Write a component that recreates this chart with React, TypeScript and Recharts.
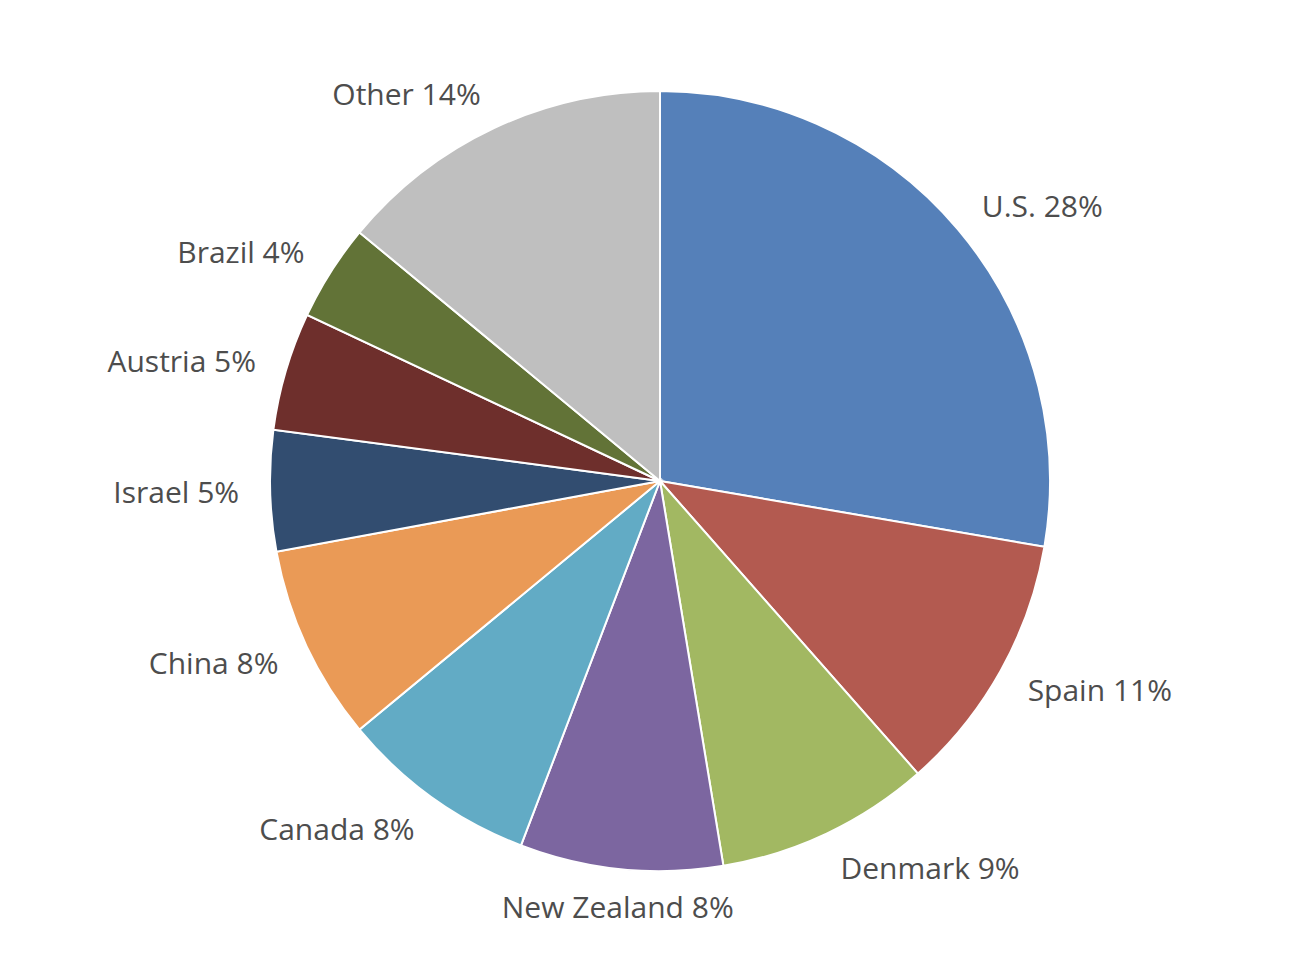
import { PieChart, Pie, Cell } from 'recharts';

const countries = ['U.S.', 'Spain', 'Denmark', 'New Zealand', 'Canada', 'China', 'Israel', 'Austria', 'Brazil', 'Other'];
// shares as measured from the slice angles; labels show them rounded
const shares = [27.7, 10.8, 8.9, 8.4, 8.2, 8.1, 5.0, 4.9, 4.0, 14.0];
const colors = ['#5580B9', '#B35A50', '#A2B862', '#7C66A0', '#62ABC5', '#EA9A56', '#324D70', '#6E2F2C', '#627337', '#BFBFBF'];

const data = countries.map((name, i) => ({ name, value: shares[i] }));

const RADIAN = Math.PI / 180;

function renderLabel(props: any) {
  const { cx, cy, midAngle, outerRadius, name, value } = props;
  const cos = Math.cos(-midAngle * RADIAN);
  const sin = Math.sin(-midAngle * RADIAN);
  // labels sit a little further out vertically than horizontally
  const x = cx + (outerRadius + 31) * cos;
  const y = cy + (outerRadius + 38) * sin;
  const anchor = Math.abs(cos) < 0.25 ? 'middle' : cos > 0 ? 'start' : 'end';
  return (
    <text
      x={x}
      y={y}
      textAnchor={anchor}
      dominantBaseline="central"
      fill="#4d4d4d"
      fontSize={30}
      fontFamily="'Open Sans', sans-serif"
    >
      {`${name} ${Math.round(value)}%`}
    </text>
  );
}

export default function App() {
  return (
    <PieChart width={1276} height={942}>
      <Pie
        data={data}
        dataKey="value"
        nameKey="name"
        cx={647}
        cy={468}
        outerRadius={390}
        startAngle={90}
        endAngle={-270}
        stroke="#ffffff"
        strokeWidth={2}
        label={renderLabel}
        labelLine={false}
        isAnimationActive={false}
      >
        {data.map((d, i) => (
          <Cell key={d.name} fill={colors[i]} />
        ))}
      </Pie>
    </PieChart>
  );
}
